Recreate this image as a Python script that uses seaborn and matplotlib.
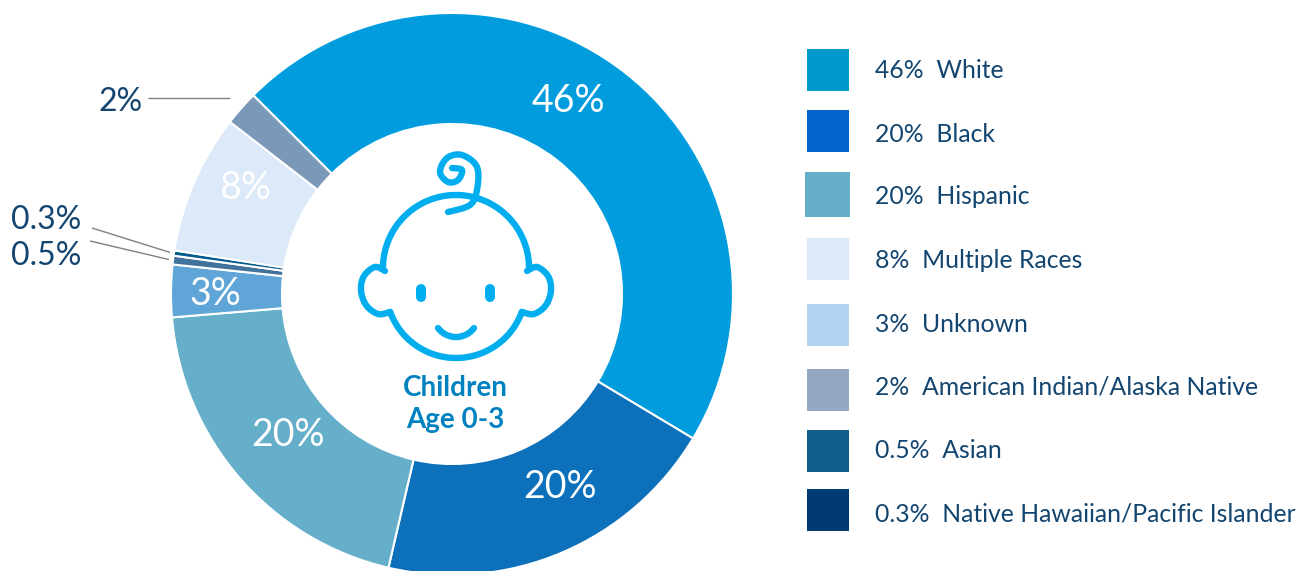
import numpy as np
import matplotlib
matplotlib.use("Agg")
import matplotlib.pyplot as plt
from matplotlib.patches import Rectangle
import seaborn as sns

# Share of children age 0-3 by race and ethnicity, in clockwise ring order
ring_groups = ["White", "Black", "Hispanic", "Unknown", "Asian",
               "Native Hawaiian/Pacific Islander", "Multiple Races",
               "American Indian/Alaska Native"]
ring_values = [46, 20, 20, 3, 0.5, 0.3, 8, 2]
ring_hex = ["#009CDE", "#0D70BB", "#66AFCB", "#5FA5D7",
            "#41739D", "#015A8C", "#DBE9F8", "#7B98B8"]

legend_labels = ["46%  White", "20%  Black", "20%  Hispanic", "8%  Multiple Races",
                 "3%  Unknown", "2%  American Indian/Alaska Native", "0.5%  Asian",
                 "0.3%  Native Hawaiian/Pacific Islander"]
legend_hex = ["#0099CC", "#0064CC", "#66AFCB", "#DBE9F8",
              "#B0D4F2", "#94A8C3", "#135F8C", "#003C71"]

inner_labels = ["46%", "20%", "20%", "8%", "3%"]
outer_labels = ["2%", "0.3%", "0.5%"]
center_lines = ["Children", "Age 0-3"]

WIDTH, HEIGHT = 1299, 571
INK = "#12456F"
ICON = "#00AEEF"

sns.set_theme(style="white")
plt.rcParams["font.family"] = ["Lato", "DejaVu Sans"]

fig = plt.figure(figsize=(WIDTH / 100, HEIGHT / 100), dpi=100, facecolor="white")
ax = fig.add_axes([0, 0, 1, 1])

# Ring
CX, CY, R_OUT, R_IN = 452, 294, 281, 170
wedges, _ = ax.pie(ring_values, colors=sns.color_palette(ring_hex), startangle=-135,
                   center=(CX, CY), radius=R_OUT, frame=True,
                   wedgeprops=dict(width=R_OUT - R_IN, edgecolor="white", linewidth=1.5))
ax.set_xlim(0, WIDTH)
ax.set_ylim(HEIGHT, 0)
ax.set_aspect("equal")
ax.axis("off")

# Percent labels on the ring
inner_xy = [(568, 101), (560, 487), (288, 435), (245, 188), (215, 294)]
for text, (x, y) in zip(inner_labels, inner_xy):
    ax.text(x, y, text, color="white", fontsize=27, ha="center", va="center")

# Labels with leader lines for the thin slices
outer_xy = [(143, 102), (81, 220), (81, 256)]
for text, (x, y) in zip(outer_labels, outer_xy):
    ax.text(x, y, text, color=INK, fontsize=23, ha="right", va="center")

ax.plot([148, 230], [98, 98], color="#808080", lw=1.0, solid_capstyle="butt")


def rim_point(wedge, gap=4):
    mid = np.radians((wedge.theta1 + wedge.theta2) / 2)
    return CX + (R_OUT + gap) * np.cos(mid), CY + (R_OUT + gap) * np.sin(mid)


leader_starts = [(92, 228), (90, 241)]
for (x0, y0), name in zip(leader_starts, ["Native Hawaiian/Pacific Islander", "Asian"]):
    x1, y1 = rim_point(wedges[ring_groups.index(name)])
    ax.plot([x0, x1], [y0, y1], color="#808080", lw=1.0, solid_capstyle="butt")

# Legend
swatches = [(807, 49, 42), (807, 110, 42), (805, 172, 45), (807, 238, 42),
            (807, 304, 42), (807, 369, 42), (807, 430, 42), (807, 489, 42)]
text_y = [70, 134, 197, 260, 324, 387, 451, 514]
for label, color, (x, y, s), ty in zip(legend_labels, legend_hex, swatches, text_y):
    ax.add_patch(Rectangle((x, y), s, s, facecolor=color, edgecolor="none"))
    ax.text(875, ty, label, color=INK, fontsize=17.85, ha="left", va="center")


# Baby face icon
def arc(cx, cy, rx, ry, a0, a1, n=80):
    t = np.radians(np.linspace(a0, a1, n))
    return cx + rx * np.cos(t), cy - ry * np.sin(t)


def smooth(points, n=16):
    p = np.array([points[0]] + points + [points[-1]], dtype=float)
    out = []
    for i in range(1, len(p) - 2):
        for t in np.linspace(0, 1, n, endpoint=False):
            out.append(0.5 * (2 * p[i] + (p[i + 1] - p[i - 1]) * t
                              + (2 * p[i - 1] - 5 * p[i] + 4 * p[i + 1] - p[i + 2]) * t ** 2
                              + (3 * p[i] - p[i - 1] - 3 * p[i + 1] + p[i + 2]) * t ** 3))
    out.append(p[-2])
    out = np.array(out)
    return out[:, 0], out[:, 1]


stroke = dict(color=ICON, lw=4.6, solid_capstyle="round", solid_joinstyle="round")
ax.plot(*arc(456, 268, 73, 73, 0, 180), **stroke)
ax.plot(*arc(456, 288, 70, 70, 200, 340), **stroke)
ear = [(385, 271), (375, 267), (364, 276), (361, 290), (366, 305), (378, 314), (390, 312)]
ax.plot(*smooth(ear), **stroke)
ax.plot(*smooth([(912 - x, y) for x, y in ear]), **stroke)
ax.plot(*smooth([(452, 168), (462, 170), (458, 180), (448, 182), (440, 172), (447, 158),
                 (462, 155), (477, 167), (477, 190), (470, 205), (448, 212)]), **stroke)
ax.plot(*arc(456, 314.5, 22.5, 22.5, 217, 323), **stroke)
for ex in (421, 490):
    ax.plot([ex, ex], [289, 297], color=ICON, lw=7.2, solid_capstyle="round")

for line, y in zip(center_lines, [388, 420]):
    ax.text(455, y, line, color="#0082C0", fontsize=20, fontweight="bold",
            ha="center", va="center")

fig.savefig("out.png", dpi=100, facecolor="white")
